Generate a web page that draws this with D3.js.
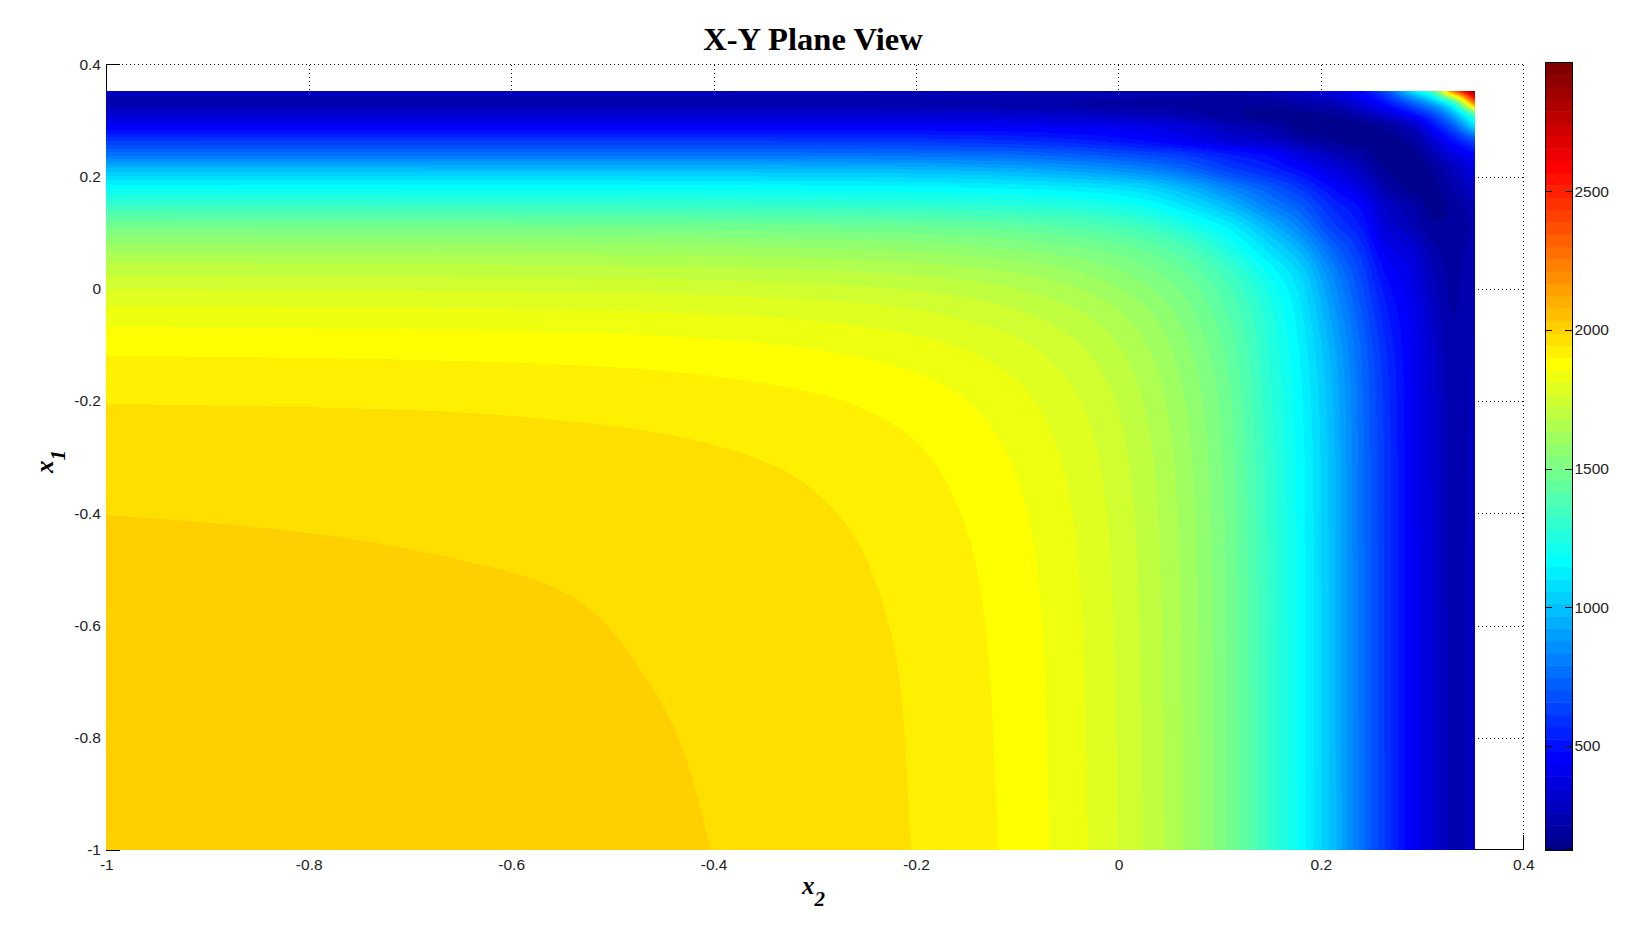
<!DOCTYPE html>
<html><head><meta charset="utf-8">
<script src="https://cdn.jsdelivr.net/npm/d3@7"></script>
<style>
html,body{margin:0;padding:0;background:#fff;overflow:hidden}
svg{display:block}
text{fill:#000}
.tick text{font-family:"Liberation Sans",Arial,sans-serif;font-size:15.5px;fill:#222}
</style></head><body><svg id="c" width="1632" height="945"></svg>
<script>
// ---- values ----
const titleText = "X-Y Plane View";
const axisTicks = [-1,-0.8,-0.6,-0.4,-0.2,0,0.2,0.4];
const colorbarTicks = [500,1000,1500,2000,2500];
const colorRange = [124,2966];
const colorCount = 64;
const dataEdge = 0.3524;
// grid coordinates shared by x1 and x2
const gridNodes = [-1,-0.7,-0.5,-0.35,-0.22,-0.12,-0.04,0.02,0.07,0.11,0.15,0.18,0.21,0.24,0.265,0.29,0.31,0.33,0.3524];
// upper triangle of the symmetric surface
const fieldRows = [
[2020,2013,2000,1981,1950,1901,1824,1731,1619,1492,1313,1175,1000,770,599,438,340,248,268],
[2006,1992,1977,1946,1896,1820,1727,1616,1490,1311,1173,998,769,598,438,340,248,268],
[1984,1968,1937,1888,1813,1721,1611,1486,1308,1171,997,768,598,438,339,247,267],
[1952,1922,1872,1800,1711,1602,1479,1302,1168,994,767,596,437,338,245,266],
[1893,1845,1776,1691,1584,1466,1290,1158,985,760,590,435,335,240,265],
[1802,1737,1658,1554,1442,1272,1140,960,745,570,430,325,228,263],
[1680,1608,1511,1401,1248,1110,910,700,530,415,300,210,262],
[1538,1458,1346,1190,1060,850,650,480,390,270,200,258],
[1371,1240,1080,950,750,590,410,345,230,188,245],
[1130,960,820,640,520,340,260,180,170,225],
[800,700,560,460,290,215,150,180,265],
[600,480,360,220,150,155,220,300],
[380,275,165,140,170,250,380],
[200,140,150,240,370,470],
[145,190,335,500,680],
[280,480,700,1090],
[640,920,1400],
[1250,2250],
[2966]
];

// ---- layout ----
const svg = d3.select("#c");
const x = d3.scaleLinear().domain([-1,0.4]).range([106.3,1523.3]);
const y = d3.scaleLinear().domain([-1,0.4]).range([850,64.3]);
const serif = '"Liberation Serif","Times New Roman",serif';

// jet(64)
function jet(i){
  const f = (i+1)/(colorCount/4);
  const seg = v => Math.max(0,Math.min(1,v));
  const r = seg(Math.min(f-1.5,4.5-f)), g = seg(Math.min(f-0.5,3.5-f)), b = seg(Math.min(f+0.5,2.5-f));
  return d3.rgb(Math.round(r*255),Math.round(g*255),Math.round(b*255)).formatHex();
}
const level = d3.scaleLinear().domain([0,colorCount]).range(colorRange);

// grid + axes under the surface
const grid = svg.append("g");
const dotted = {stroke:"#000","stroke-width":1,"stroke-dasharray":"1 3","shape-rendering":"crispEdges"};
axisTicks.filter(t=>t>-1).forEach(t=>{
  const l1 = grid.append("line").attr("x1",Math.round(x(t))+.5).attr("x2",Math.round(x(t))+.5).attr("y1",y(-1)).attr("y2",y(.4));
  const l2 = grid.append("line").attr("y1",Math.round(y(t))+.5).attr("y2",Math.round(y(t))+.5).attr("x1",x(-1)).attr("x2",x(.4));
  [l1,l2].forEach(l=>Object.entries(dotted).forEach(([k,v])=>l.attr(k,v)));
});
const fmt = d=>String(d);
const ax = svg.append("g").attr("transform","translate(0,849)")
  .call(d3.axisBottom(x).tickValues(axisTicks).tickFormat(fmt).tickSizeInner(-14).tickSizeOuter(0).tickPadding(6));
const ay = svg.append("g").attr("transform","translate(106,0)")
  .call(d3.axisLeft(y).tickValues(axisTicks).tickFormat(fmt).tickSizeInner(-14).tickSizeOuter(0).tickPadding(5));
[ax,ay].forEach(g=>{g.selectAll("path,line").attr("stroke","#000").attr("shape-rendering","crispEdges");});
ax.selectAll("text").attr("dy","0.95em");

// ---- surface: resample the read grid for d3.contours ----
function slopes(xs,ys){
  const n=xs.length,d=[],m=new Array(n);
  for(let i=0;i<n-1;i++)d.push((ys[i+1]-ys[i])/(xs[i+1]-xs[i]));
  m[0]=d[0];m[n-1]=d[n-2];
  for(let i=1;i<n-1;i++){
    if(d[i-1]*d[i]<=0){m[i]=0;continue;}
    const h0=xs[i]-xs[i-1],h1=xs[i+1]-xs[i],w1=2*h1+h0,w2=h1+2*h0;
    m[i]=(w1+w2)/(w1/d[i-1]+w2/d[i]);
  }
  return m;
}
function hermite(xs,ys,ms,t0){
  const t=Math.max(xs[0],Math.min(xs[xs.length-1],t0));
  let i=d3.bisectRight(xs,t)-1; i=Math.max(0,Math.min(xs.length-2,i));
  const h=xs[i+1]-xs[i],s=(t-xs[i])/h,s2=s*s,s3=s2*s;
  return (2*s3-3*s2+1)*ys[i]+(s3-2*s2+s)*h*ms[i]+(-2*s3+3*s2)*ys[i+1]+(s3-s2)*h*ms[i+1];
}
const N=gridNodes.length;
const matrix=d3.range(N).map(()=>new Array(N));
fieldRows.forEach((row,i)=>row.forEach((v,k)=>{matrix[i][i+k]=v;matrix[i+k][i]=v;}));

// the contour grid runs a few cells past the plot and is clipped to it
const x0=106,x1=1475,yTop=91,yBot=850,pad=3;
const nx=684,ny=380,gx=nx+2*pad,gy=ny+2*pad;
const sx=d3.scaleLinear().domain([pad,nx+pad]).range([x0,x1]);
const sy=d3.scaleLinear().domain([pad,ny+pad]).range([yTop,yBot]);
const colX=d3.range(gx).map(i=>x.invert(sx(i+.5)));
const rowY=d3.range(gy).map(j=>y.invert(sy(j+.5)));
const partial=matrix.map(r=>{const m=slopes(gridNodes,r);return colX.map(t=>hermite(gridNodes,r,m,t));});
const values=new Float64Array(gx*gy);
for(let i=0;i<gx;i++){
  const col=partial.map(r=>r[i]);const m=slopes(gridNodes,col);
  for(let j=0;j<gy;j++)values[j*gx+i]=hermite(gridNodes,col,m,rowY[j]);
}
const path=d3.geoPath(d3.geoTransform({point(a,b){this.stream.point(sx(a),sy(b));}}));
const thresholds=d3.range(1,colorCount).map(i=>level(i));
const contours=d3.contours().size([gx,gy]).smooth(true).thresholds(thresholds)(values);
svg.append("clipPath").attr("id","plot").append("rect").attr("x",x0).attr("y",yTop).attr("width",x1-x0).attr("height",yBot-yTop);
const surf=svg.append("g").attr("clip-path","url(#plot)").attr("shape-rendering","crispEdges");
surf.append("rect").attr("x",x0).attr("y",yTop).attr("width",x1-x0).attr("height",yBot-yTop).attr("fill",jet(0));
surf.selectAll("path").data(contours).join("path")
  .attr("d",path).attr("fill",(d,i)=>jet(i+1));

// ---- colour bar ----
const cbLeft=1545.5,cbRight=1572.5;
const cb=d3.scaleLinear().domain([colorRange[0],2500]).range([850,191.3]);
const cbg=svg.append("g");
cbg.selectAll("rect").data(d3.range(colorCount)).join("rect")
  .attr("x",cbLeft).attr("width",cbRight-cbLeft)
  .attr("y",i=>cb(level(i+1))).attr("height",i=>cb(level(i))-cb(level(i+1))+.5)
  .attr("fill",i=>jet(i));
cbg.append("rect").attr("x",cbLeft).attr("y",cb(colorRange[1])).attr("width",cbRight-cbLeft).attr("height",850-cb(colorRange[1]))
  .attr("fill","none").attr("stroke","#000").attr("shape-rendering","crispEdges");
const cbAxis=svg.append("g").attr("transform",`translate(${cbRight},0)`)
  .call(d3.axisRight(cb).tickValues(colorbarTicks).tickFormat(fmt).tickSize(0).tickPadding(2));
cbAxis.select("path").remove();
[...colorbarTicks,colorRange[0]].forEach(t=>{
  const py=t===colorRange[0]?848.5:Math.round(cb(t))+.5;
  [[cbLeft,cbLeft+6.5],[cbRight-8,cbRight]].forEach(([a,b])=>
    svg.append("line").attr("x1",a).attr("x2",b).attr("y1",py).attr("y2",py).attr("stroke","#000").attr("shape-rendering","crispEdges"));
});

// ---- titles ----
svg.append("text").attr("x",813).attr("y",50).attr("text-anchor","middle")
  .attr("font-family",serif).attr("font-weight","bold").attr("font-size",32.6).text(titleText);
function label(g,sub){
  g.attr("font-family",serif).attr("font-style","italic").attr("font-weight","bold").attr("font-size",25);
  g.append("tspan").text("x");
  g.append("tspan").attr("dy",12).attr("font-size",21).text(sub);
}
label(svg.append("text").attr("x",802).attr("y",894),"2");
label(svg.append("text").attr("transform","translate(53,473) rotate(-90)"),"1");
</script></body></html>
